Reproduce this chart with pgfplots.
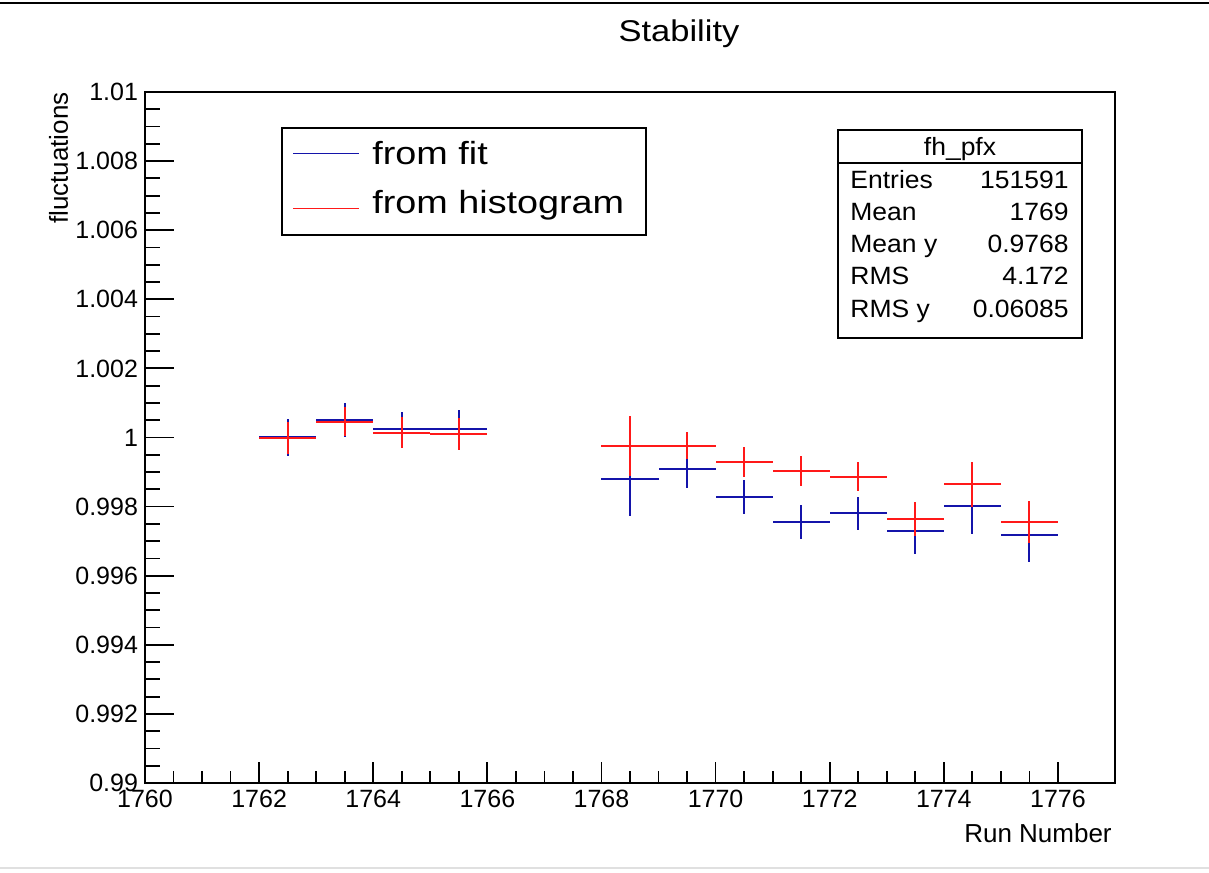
\documentclass[border=0pt]{standalone}
\usepackage{fontspec}
\setmainfont{Liberation Sans}
\newfontfamily\titlefont[FakeStretch=1.15]{Liberation Sans}
\newfontfamily\legfont[FakeStretch=1.18]{Liberation Sans}
\newfontfamily\statfont[FakeStretch=1.06]{Liberation Sans}
\usepackage{pgfplots}
\usepackage{pgfplotstable}
\pgfplotsset{compat=1.18}
\definecolor{fitblue}{RGB}{20,20,170}
\definecolor{histred}{RGB}{255,25,25}

\pgfplotstableread{
x y ey
1762.5 1.00000 0.00053
1763.5 1.00050 0.00050
1764.5 1.00024 0.00050
1765.5 1.00024 0.00056
1768.5 0.99881 0.00108
1769.5 0.99908 0.00055
1770.5 0.99828 0.00049
1771.5 0.99755 0.00049
1772.5 0.99781 0.00048
1773.5 0.99729 0.00066
1774.5 0.99802 0.00082
1775.5 0.99717 0.00076
}\fitdata

\pgfplotstableread{
x y ey
1762.5 0.99999 0.00046
1763.5 1.00045 0.00042
1764.5 1.00014 0.00044
1765.5 1.00009 0.00046
1768.5 0.99976 0.00087
1769.5 0.99976 0.00039
1770.5 0.99929 0.00044
1771.5 0.99903 0.00043
1772.5 0.99887 0.00043
1773.5 0.99764 0.00050
1774.5 0.99865 0.00065
1775.5 0.99755 0.00060
}\histdata

\begin{document}
\begin{tikzpicture}
\path[use as bounding box] (0,0) rectangle (604.5pt,436pt);
\begin{axis}[
  at={(72.5pt,44.5pt)}, anchor=south west,
  scale only axis, width=485pt, height=345.5pt,
  xmin=1760, xmax=1777, ymin=0.99, ymax=1.01,
  xtick={1760,1762,1764,1766,1768,1770,1772,1774,1776},
  ytick={0.99,0.992,0.994,0.996,0.998,1,1.002,1.004,1.006,1.008,1.01},
  minor x tick num=3, minor y tick num=3,
  tick align=inside, xtick pos=left, ytick pos=left,
  axis line style={line width=0.9pt},
  every tick/.style={black, line width=0.9pt},
  xtick style={/pgfplots/major tick length=10.4pt, /pgfplots/minor tick length=5.8pt},
  ytick style={/pgfplots/major tick length=14.5pt, /pgfplots/minor tick length=7.5pt},
  scaled x ticks=false, scaled y ticks=false,
  /pgf/number format/1000 sep={},
  /pgf/number format/precision=3,
  /pgf/number format/assume math mode=true,
  ticklabel style={font=\fontsize{12.5}{14}\selectfont},
  xlabel={Run Number}, ylabel={fluctuations},
  every axis x label/.style={at={(axis description cs:0.997,0)}, anchor=base east, inner sep=0pt, yshift=-30pt, font=\fontsize{13}{15}\selectfont},
  every axis y label/.style={at={(axis description cs:-0.0794,1)}, rotate=90, anchor=base east, inner sep=0pt, font=\fontsize{13}{15}\selectfont},
  title={Stability},
  every axis title/.style={at={(axis description cs:0.5505,1)}, anchor=base, inner sep=0pt, yshift=25pt, font=\titlefont\fontsize{15}{17}\selectfont},
  clip=false,
]
\addplot[draw=none, mark=none,
  error bars/.cd, x dir=both, x fixed=0.5, y dir=both, y explicit,
  error bar style={draw=fitblue, line width=1pt}, error mark=none]
  table[x=x, y=y, y error=ey]{\fitdata};
\addplot[draw=none, mark=none,
  error bars/.cd, x dir=both, x fixed=0.5, y dir=both, y explicit,
  error bar style={draw=histred, line width=1pt}, error mark=none]
  table[x=x, y=y, y error=ey]{\histdata};
\end{axis}
\begin{scope}[x=0.5pt, y=-0.5pt, shift={(0,436pt)}]
  % frame lines of the canvas
  \draw[line width=1pt] (0,3) -- (1209,3);
  \draw[black!12, line width=1pt] (0,868) -- (1209,868);
  % legend
  \draw[line width=0.75pt, fill=white] (282,128) rectangle (646,235);
  \draw[fitblue, line width=0.8pt] (293,153.5) -- (359,153.5);
  \draw[histred, line width=0.8pt] (293,208.5) -- (359,208.5);
  \node[anchor=base west, inner sep=0pt, font=\legfont\fontsize{16}{18}\selectfont] at (372,165) {from fit};
  \node[anchor=base west, inner sep=0pt, font=\legfont\fontsize{16}{18}\selectfont] at (372,214) {from histogram};
  % stats box
  \draw[line width=0.75pt, fill=white] (838,130) rectangle (1082,338);
  \draw[line width=0.75pt] (838,163) -- (1082,163);
  \begin{scope}[every node/.style={inner sep=0pt, font=\statfont\fontsize{12.5}{14}\selectfont}]
    \node[anchor=base] at (960,156) {fh\_pfx};
    \node[anchor=base west] at (850,189) {Entries};
    \node[anchor=base east] at (1069,189) {151591};
    \node[anchor=base west] at (850,221) {Mean};
    \node[anchor=base east] at (1069,221) {1769};
    \node[anchor=base west] at (850,253) {Mean y};
    \node[anchor=base east] at (1069,253) {0.9768};
    \node[anchor=base west] at (850,285) {RMS};
    \node[anchor=base east] at (1069,285) {4.172};
    \node[anchor=base west] at (850,318) {RMS y};
    \node[anchor=base east] at (1069,318) {0.06085};
  \end{scope}
\end{scope}
\end{tikzpicture}
\end{document}
